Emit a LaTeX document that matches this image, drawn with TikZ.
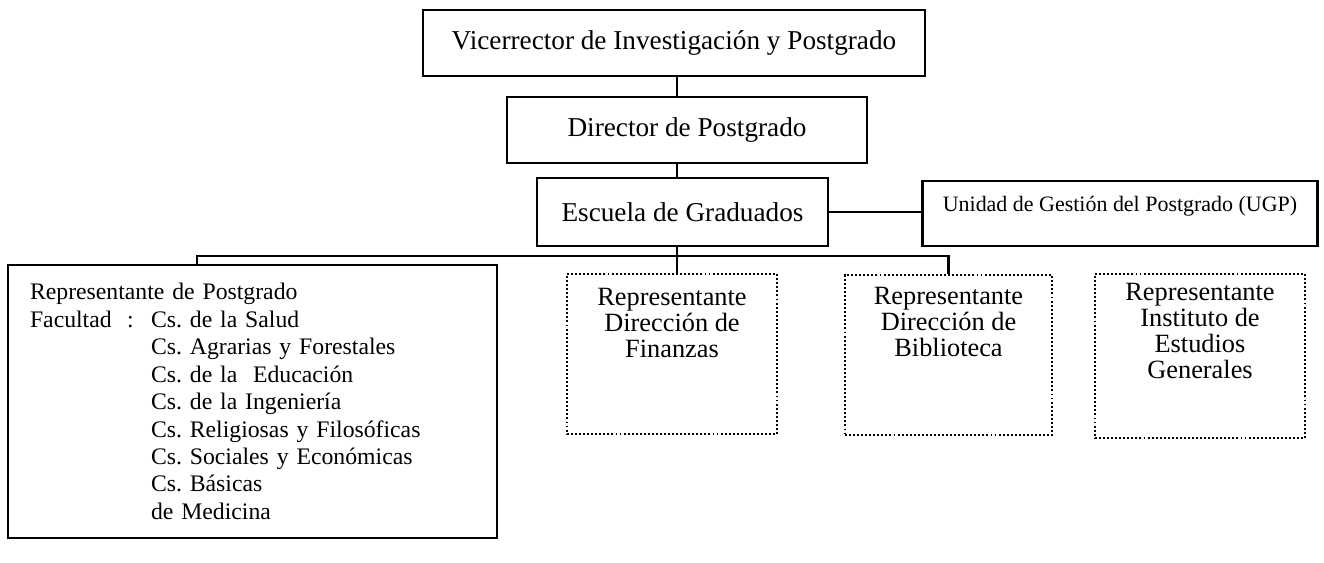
\documentclass[tikz,border=0pt]{standalone}
\usepackage{fontspec}
\setmainfont{Liberation Serif}
\frenchspacing

\tikzset{
  orgbox/.style={draw, line width=1.5pt, inner sep=0pt, font=\fontsize{15.5}{18}\selectfont},
  repbox/.style={draw, line width=1.1pt, dash pattern=on 1.1pt off 1.2pt, inner sep=0pt, font=\fontsize{15}{14.8}\selectfont},
  link/.style={line width=1.5pt}
}

\begin{document}
\begin{tikzpicture}[x=0.02cm, y=-0.02cm]
	\useasboundingbox (0,0) rectangle (1324,562);
	% Autoridades
	\node[orgbox, minimum width=10.04cm, minimum height=1.32cm] (vr) at (674,43) {Vicerrector de Investigación y Postgrado};
	\node[orgbox, minimum width=7.2cm, minimum height=1.32cm] (dir) at (687,130) {Director de Postgrado};
	\node[orgbox, minimum width=5.82cm, minimum height=1.36cm] (esc) at (682.5,212) {Escuela de Graduados};
	\node[orgbox, minimum width=7.9cm, minimum height=1.3cm, font=\fontsize{12.5}{15}\selectfont] (ugp) at (1120,213.5) {\raisebox{0.05cm}[0pt][0pt]{Unidad de Gestión del Postgrado (UGP)}};
	% Representantes de Facultad
	\node[orgbox, font=\fontsize{13.5}{15.6}\selectfont, text width=8.9cm, align=left, inner xsep=0.44cm, minimum height=5.46cm] (rep) at (252.5,401.5) {%
		Representante de Postgrado\\
		\makebox[1.94cm][l]{Facultad}\makebox[0.48cm][l]{:}Cs. de la Salud\\
		\hspace*{2.42cm}Cs. Agrarias y Forestales\\
		\hspace*{2.42cm}Cs. de la~ Educación\\
		\hspace*{2.42cm}Cs. de la Ingeniería\\
		\hspace*{2.42cm}Cs. Religiosas y Filosóficas\\
		\hspace*{2.42cm}Cs. Sociales y Económicas\\
		\hspace*{2.42cm}Cs. Básicas\\
		\hspace*{2.42cm}de Medicina};
	% Otros representantes
	\node[repbox] (fin) at (672,354) {\parbox[c][3.2cm][t]{4.2cm}{\centering\rule{0pt}{18pt}Representante\\Dirección de\\Finanzas}};
	\node[repbox] (bib) at (948.5,355) {\parbox[c][3.2cm][t]{4.14cm}{\centering\rule{0pt}{17pt}Representante\\Dirección de\\Biblioteca}};
	\node[repbox] (ieg) at (1200,356) {\parbox[c][3.28cm][t]{4.2cm}{\centering\rule{0pt}{15pt}Representante\\Instituto de\\Estudios\\Generales}};
	% Lineas
	\coordinate (spine) at (677,0);
	\coordinate (busL) at (197,256);
	\draw[link] (vr.south -| spine) -- (dir.north -| spine);
	\draw[link] (dir.south -| spine) -- (esc.north -| spine);
	\draw[link] (esc.south -| spine) -- (fin.north -| spine);
	\draw[link] (esc.east) -- (ugp.west |- esc.east);
	\draw[link] (rep.north -| busL) -- (busL) -- (busL -| bib.north) -- (bib.north);
\end{tikzpicture}
\end{document}
